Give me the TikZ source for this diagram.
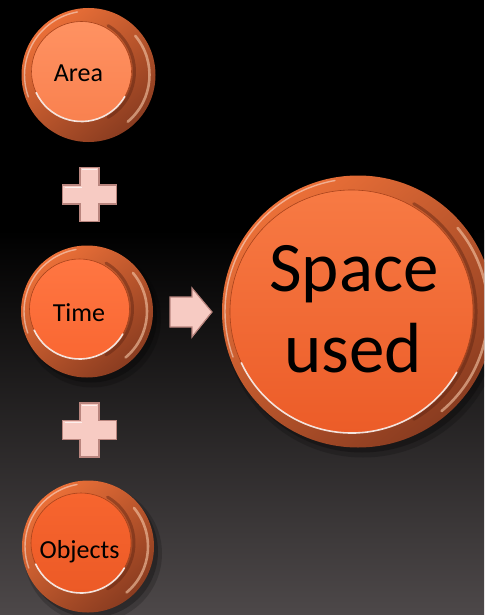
\documentclass[tikz,border=0pt]{standalone}
\usepackage{fontspec}
\setmainfont{Carlito}
\usetikzlibrary{calc}

\definecolor{bgbot}{HTML}{4D4849}
\definecolor{rimhi}{HTML}{EC7038}
\definecolor{rimlo}{HTML}{8A3C20}
\definecolor{rimglint}{HTML}{F6C8A8}
\definecolor{rimshadow}{HTML}{5E2412}
\definecolor{faceedge}{HTML}{A8431C}
\definecolor{plusbody}{HTML}{F7CBC3}
\definecolor{plusedge}{HTML}{B9857E}
\definecolor{areatop}{HTML}{FF9262}
\definecolor{areabot}{HTML}{F9814F}
\definecolor{timetop}{HTML}{FF7642}
\definecolor{timebot}{HTML}{F96732}
\definecolor{objtop}{HTML}{F7652F}
\definecolor{objbot}{HTML}{EC5A26}
\definecolor{spacetop}{HTML}{F77A44}
\definecolor{spacebot}{HTML}{EC5C28}

\tikzset{
  coinface/.style={circle, inner sep=0pt, draw=faceedge, line width=0.6pt},
  lbl/.style={font=\fontsize{26}{30}\selectfont, text=black, inner sep=0pt},
  biglbl/.style={font=\fontsize{71}{80}\selectfont, text=black, inner sep=0pt},
  glint/.style={line width=1.6pt, color=white, opacity=.85, line cap=round},
  softglint/.style={line width=1.4pt, color=white, opacity=.45, line cap=round},
  sideglint/.style={line width=2.6pt, color=rimglint, opacity=.6, line cap=round},
  sideshade/.style={line width=3pt, color=rimshadow, opacity=.45, line cap=round},
  signbody/.style={fill=plusbody, draw=plusedge, line width=1.2pt, line join=miter},
}

% #1 name, #2/#3 rim centre, #4 rim radius, #5/#6 face centre, #7 face radius,
% #8/#9 face top and bottom colours
\newcommand\coinbutton[9]{%
  \pgfmathsetmacro\cbRa{#4-3}%
  \pgfmathsetmacro\cbRb{#4-6}%
  \pgfmathsetmacro\cbRc{#4+3}%
  \pgfmathsetmacro\cbFa{#7+3}%
  \coordinate (#1-o) at (#2,#3);
  \coordinate (#1-c) at (#5,#6);
  % soft drop shadow
  \fill[black,opacity=.18] ($(#1-o)+(5pt,-7pt)$) circle[radius=\cbRc pt];
  \fill[black,opacity=.25] ($(#1-o)+(4pt,-5pt)$) circle[radius=#4pt];
  % bevelled rim
  \shade[top color=rimhi, bottom color=rimlo, shading angle=40] (#1-o) circle[radius=#4pt];
  \draw[softglint] ($(#1-o)+(100:\cbRa pt)$) arc[start angle=100, end angle=200, radius=\cbRa pt];
  \draw[sideshade] ($(#1-c)+(-60:\cbFa pt)$) arc[start angle=-60, end angle=60, radius=\cbFa pt];
  \draw[sideglint] ($(#1-o)+(-50:\cbRb pt)$) arc[start angle=-50, end angle=40, radius=\cbRb pt];
  % face
  \node[coinface, minimum size=2*#7pt, top color=#8, bottom color=#9] (#1) at (#1-c) {};
  \draw[glint] ($(#1-c)+(205:#7pt)$) arc[start angle=205, end angle=330, radius=#7pt];
}

% plus sign: #1 name of centre, #2/#3 centre, #4 half length, #5 half width
\newcommand\plussign[5]{%
  \pgfmathsetmacro\psL{#4-#5}%
  \coordinate (#1) at (#2,#3);
  \draw[signbody] ($(#1)+(-#5pt,#4pt)$) -- ++(2*#5pt,0) -- ++(0,-\psL pt) -- ++(\psL pt,0)
    -- ++(0,-2*#5pt) -- ++(-\psL pt,0) -- ++(0,-\psL pt) -- ++(-2*#5pt,0)
    -- ++(0,\psL pt) -- ++(-\psL pt,0) -- ++(0,2*#5pt) -- ++(\psL pt,0) -- cycle;
  \draw[white,opacity=.7,line width=1pt] ($(#1)+(-#5pt+2pt,#4pt-2pt)$) -- ++(2*#5pt-4pt,0);
  \draw[white,opacity=.7,line width=1pt] ($(#1)+(-#4pt+2pt,#5pt-2pt)$) -- ++(\psL pt,0);
}

\begin{document}
\begin{tikzpicture}[x=1pt, y=-1pt]
  \useasboundingbox (0,0) rectangle (484,615);
  \clip (0,0) rectangle (484,615);

  % slide background: black above, fading to warm grey at the foot
  \fill[black] (0,0) rectangle (484,232);
  \shade[top color=black, bottom color=bgbot] (0,230) rectangle (484,615);

  % the three inputs
  \coinbutton{area}{88.5}{75}{67}{81.5}{71.5}{50}{areatop}{areabot}
  \coinbutton{time}{87}{311.5}{66}{79.5}{309}{50}{timetop}{timebot}
  \coinbutton{objects}{88}{546.5}{66}{81}{543}{50}{objtop}{objbot}
  \node[lbl, anchor=base] (area-text) at (78.5,82) {Area};
  \node[lbl, anchor=base] (time-text) at (79,321) {Time};
  \node[lbl, anchor=base] (objects-text) at (79.5,558) {Objects};

  % the result
  \coinbutton{space}{358}{311.5}{136}{351.5}{311.5}{121.5}{spacetop}{spacebot}
  \node[biglbl, anchor=base] (space-top) at (354,291) {Space};
  \node[biglbl, anchor=base] (space-bot) at (353,372) {used};

  % operators between the inputs
  \plussign{plus-a}{89.5}{194.5}{27}{9.5}
  \plussign{plus-b}{89.5}{430}{27}{9.5}

  % block arrow towards the result
  \coordinate (arr-tail) at (170,312);
  \coordinate (arr-tip) at (212,312);
  \draw[signbody] (arr-tail) ++(0,-15) -- ++(22,0) -- ++(0,-9) -- (arr-tip)
    -- ++(-20,25) -- ++(0,-10) -- ++(-22,0) -- cycle;
\end{tikzpicture}
\end{document}
